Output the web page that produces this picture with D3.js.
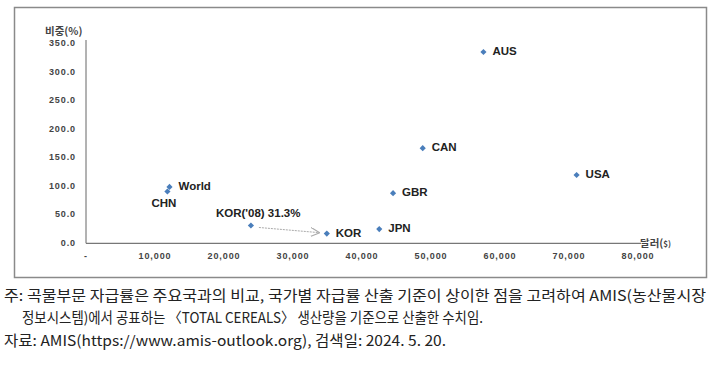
<!DOCTYPE html>
<html>
<head>
<meta charset="utf-8">
<script src="https://cdn.jsdelivr.net/npm/d3@7"></script>
<style>
  body { margin: 0; background: #fff; }
  svg text { font-family: "Liberation Sans", Arial, "Noto Sans CJK KR", sans-serif; }
</style>
</head>
<body>
<div id="chart"></div>
<script>
// 국가별 1인당 GDP(달러) vs 곡물 자급률(%)
var countries = ["AUS", "CAN", "USA", "GBR", "JPN", "KOR", "KOR('08) 31.3%", "World", "CHN"];
var gdp       = [57600, 48800, 71100, 44500, 42500, 34900, 23900, 12100, 11800];
var ratio     = [336, 167, 120, 88, 25, 17, 31.3, 99, 91];
var xTicks = [0, 10000, 20000, 30000, 40000, 50000, 60000, 70000, 80000];
var yTicks = [0, 50, 100, 150, 200, 250, 300, 350];
var notes = [
  "주: 곡물부문 자급률은 주요국과의 비교, 국가별 자급률 산출 기준이 상이한 점을 고려하여 AMIS(농산물시장",
  "정보시스템)에서 공표하는 〈TOTAL CEREALS〉 생산량을 기준으로 산출한 수치임.",
  "자료: AMIS(https://www.amis-outlook.org), 검색일: 2024. 5. 20."
];

var W = 717, H = 371;
var svg = d3.select("#chart").append("svg")
    .attr("width", W)
    .attr("height", H);

// frame
svg.append("rect")
    .attr("x", 14.5).attr("y", 7.5)
    .attr("width", 692).attr("height", 270)
    .attr("fill", "#fff")
    .attr("stroke", "#8a8a8a")
    .attr("stroke-width", 1.5);

var x = d3.scaleLinear().domain([0, 80000]).range([86, 638]);
var y = d3.scaleLinear().domain([0, 350]).range([243.3, 44]);

// axes lines
svg.append("line")
    .attr("x1", 86).attr("x2", 86)
    .attr("y1", 40).attr("y2", y(0))
    .attr("stroke", "#666").attr("stroke-width", 1);
svg.append("line")
    .attr("x1", 86).attr("x2", 641)
    .attr("y1", y(0)).attr("y2", y(0))
    .attr("stroke", "#777").attr("stroke-width", 1.3);

// y tick labels
svg.append("g").selectAll("text")
  .data(yTicks)
  .enter().append("text")
    .attr("x", 76)
    .attr("y", function(d) { return y(d); })
    .attr("text-anchor", "end")
    .attr("dominant-baseline", "middle")
    .style("font-size", "9px")
    .style("letter-spacing", "0.9px")
    .style("font-weight", "bold")
    .style("fill", "#444")
    .text(function(d) { return d3.format(".1f")(d); });

// x tick labels
svg.append("g").selectAll("text")
  .data(xTicks)
  .enter().append("text")
    .attr("x", function(d) { return x(d); })
    .attr("y", 259)
    .attr("text-anchor", "middle")
    .style("font-size", "9px")
    .style("letter-spacing", "0.9px")
    .style("font-weight", "bold")
    .style("fill", "#444")
    .text(function(d) { return d === 0 ? "-" : d3.format(",")(d); });

// axis titles
svg.append("text")
    .attr("x", 45).attr("y", 35)
    .style("font-size", "10.5px")
    .style("font-weight", "bold")
    .style("fill", "#444")
    .style("font-family", "'Noto Sans CJK KR', sans-serif")
    .text("비중(%)");
svg.append("text")
    .attr("x", 640).attr("y", 247)
    .style("font-size", "10.5px")
    .style("font-weight", "bold")
    .style("fill", "#444")
    .style("font-family", "'Noto Sans CJK KR', sans-serif")
    .text("달러(")
  .append("tspan")
    .style("font-size", "8px")
    .text("$)");

// arrow KOR('08) -> KOR
svg.append("defs").append("marker")
    .attr("id", "arr")
    .attr("viewBox", "0 0 10 10")
    .attr("refX", 9).attr("refY", 5)
    .attr("markerWidth", 9).attr("markerHeight", 9)
    .attr("markerUnits", "userSpaceOnUse")
    .attr("orient", "auto")
  .append("path")
    .attr("d", "M0,0L10,5L0,10")
    .attr("fill", "none")
    .attr("stroke", "#aaa")
    .attr("stroke-width", 1.2);
svg.append("line")
    .attr("x1", x(gdp[6]) + 8).attr("y1", y(ratio[6]) + 2)
    .attr("x2", x(gdp[5]) - 8).attr("y2", y(ratio[5]) - 1)
    .attr("stroke", "#aaa")
    .attr("stroke-width", 1)
    .attr("stroke-dasharray", "2,1")
    .attr("marker-end", "url(#arr)");

// points (diamond = rotated square)
svg.append("g").selectAll("path")
  .data(countries)
  .enter().append("path")
    .attr("d", d3.symbol().type(d3.symbolSquare).size(19))
    .attr("transform", function(d, i) { return "translate(" + x(gdp[i]) + "," + y(ratio[i]) + ") rotate(45)"; })
    .attr("fill", "#4a7ebb");

// labels
var labelPos = {
  "CHN": [-16, 12, "start"],
  "KOR('08) 31.3%": [-35, -12, "start"]
};
svg.append("g").selectAll("text")
  .data(countries)
  .enter().append("text")
    .attr("x", function(d, i) { var p = labelPos[d]; return x(gdp[i]) + (p ? p[0] : 9); })
    .attr("y", function(d, i) { var p = labelPos[d]; return y(ratio[i]) + (p ? p[1] : 0); })
    .attr("dominant-baseline", "middle")
    .style("font-size", "11.5px")
    .style("font-weight", "bold")
    .style("fill", "#222")
    .text(function(d) { return d; });

// notes
var noteX = [4, 22, 4], noteY = [297, 319, 342], noteLen = [702, 461, 442];
svg.append("g").selectAll("text")
  .data(notes)
  .enter().append("text")
    .attr("x", function(d, i) { return noteX[i]; })
    .attr("y", function(d, i) { return noteY[i]; })
    .attr("dominant-baseline", "middle")
    .attr("textLength", function(d, i) { return noteLen[i]; })
    .attr("lengthAdjust", "spacingAndGlyphs")
    .style("font-family", "'Noto Sans CJK KR', sans-serif")
    .style("font-size", "14.5px")
    .style("fill", "#222")
    .text(function(d) { return d; });
</script>
</body>
</html>
